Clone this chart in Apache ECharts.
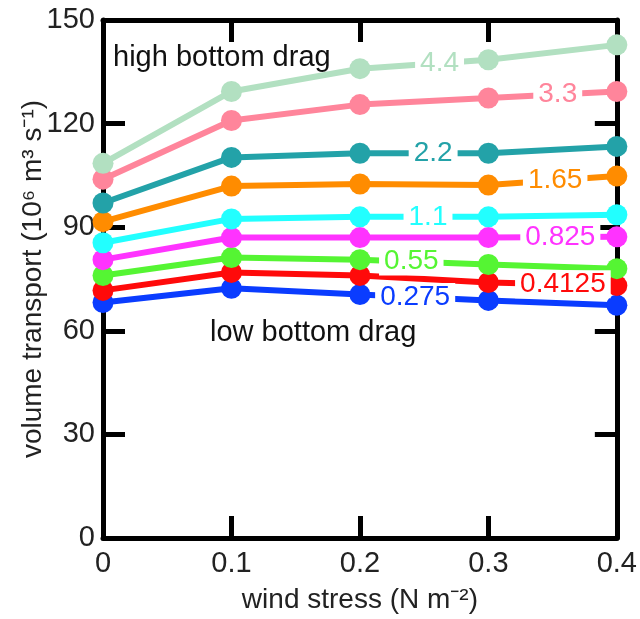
<!DOCTYPE html>
<html>
<head>
<meta charset="utf-8">
<script src="https://cdn.jsdelivr.net/npm/echarts@6/dist/echarts.min.js"></script>
<style>
  html, body { margin: 0; padding: 0; background: #fff; }
  #chart { width: 640px; height: 619px; }
</style>
</head>
<body>
<div id="chart"></div>
<script>
// wind stress (N m-2)
const windStress = [0, 0.1, 0.2, 0.3, 0.4];

// bottom drag labels, colours and transport values (Sv)
const dragNames = ['4.4', '3.3', '2.2', '1.65', '1.1', '0.825', '0.55', '0.4125', '0.275'];
const dragColors = ['#b2e0c1', '#ff859b', '#23a2a8', '#ff8c00', '#22ffff', '#ff33ff', '#55f533', '#ff0a0a', '#0a3cff'];
const transport = [
  [108.5, 129.3, 135.9, 138.5, 142.8],
  [103.9, 120.9, 125.5, 127.4, 129.3],
  [97.0, 110.2, 111.4, 111.4, 113.4],
  [91.6, 101.9, 102.5, 102.2, 104.8],
  [85.5, 92.4, 93.0, 93.0, 93.6],
  [80.6, 87.0, 87.0, 87.0, 87.2],
  [76.0, 81.2, 80.6, 79.2, 78.0],
  [71.7, 76.9, 76.0, 74.0, 73.1],
  [68.2, 72.3, 70.5, 68.8, 67.4]
];
// where along x each inline label sits
const labelX = [0.262, 0.354, 0.257, 0.352, 0.253, 0.356, 0.24, 0.358, 0.243];

const FONT = '"Liberation Sans", Arial, sans-serif';

// y value on a series at a given x (used only to place the inline label)
function yAt(vals, x) {
  for (let i = 0; i < windStress.length - 1; i++) {
    const x0 = windStress[i], x1 = windStress[i + 1];
    if (x >= x0 && x <= x1) {
      const t = (x - x0) / (x1 - x0);
      return vals[i] + t * (vals[i + 1] - vals[i]);
    }
  }
  return vals[vals.length - 1];
}

const axisLine = { show: true, onZero: false, lineStyle: { color: '#000', width: 5 } };
const axisTick = { show: true, inside: true, length: 22, lineStyle: { color: '#000', width: 5 } };

const series = dragNames.map((name, i) => ({
  name: name,
  type: 'line',
  clip: false,
  data: windStress.map((x, j) => [x, transport[i][j]]),
  symbol: 'circle',
  symbolSize: 21,
  lineStyle: { color: dragColors[i], width: 6 },
  itemStyle: { color: dragColors[i] },
  emphasis: { disabled: true },
  z: 10 - i,
  markPoint: {
    symbol: 'rect',
    symbolSize: 0,
    silent: true,
    z: 30,
    data: [{ coord: [labelX[i], yAt(transport[i], labelX[i])] }],
    label: {
      show: true,
      position: 'inside',
      formatter: name,
      color: dragColors[i],
      fontFamily: FONT,
      fontSize: 28,
      backgroundColor: '#fff',
      padding: [0, 5, 0, 5],
      lineHeight: 28
    }
  }
}));

const chart = echarts.init(document.getElementById('chart'));
chart.setOption({
  backgroundColor: '#fff',
  animation: false,
  grid: { left: 103, right: 20, top: 20, bottom: 76 },
  xAxis: [
    {
      type: 'value', min: 0, max: 0.4, interval: 0.1,
      name: 'wind stress (N m⁻²)', nameLocation: 'middle', nameGap: 48,
      nameMoveOverlap: false,
      nameTextStyle: { fontFamily: FONT, fontSize: 28, color: '#222' },
      axisLine: axisLine, axisTick: axisTick, splitLine: { show: false },
      axisLabel: { fontFamily: FONT, fontSize: 29, color: '#222', margin: 11 }
    },
    {
      type: 'value', min: 0, max: 0.4, interval: 0.1, position: 'top',
      axisLine: axisLine, axisTick: axisTick, splitLine: { show: false },
      axisLabel: { show: false }
    }
  ],
  yAxis: [
    {
      type: 'value', min: 0, max: 150, interval: 30,
      name: 'volume transport (10⁶ m³ s⁻¹)', nameLocation: 'middle', nameGap: 56,
      nameMoveOverlap: false,
      nameTextStyle: { fontFamily: FONT, fontSize: 28, color: '#222' },
      axisLine: axisLine, axisTick: axisTick, splitLine: { show: false },
      axisLabel: { fontFamily: FONT, fontSize: 29, color: '#222', margin: 8 }
    },
    {
      type: 'value', min: 0, max: 150, interval: 30, position: 'right',
      axisLine: axisLine, axisTick: axisTick, splitLine: { show: false },
      axisLabel: { show: false }
    }
  ],
  graphic: [
    {
      type: 'text', left: 113, top: 43, z: 100,
      style: { text: 'high bottom drag', fontFamily: FONT, fontSize: 29, fill: '#111' }
    },
    {
      type: 'text', left: 210, top: 318, z: 100,
      style: { text: 'low bottom drag', fontFamily: FONT, fontSize: 29, fill: '#111' }
    }
  ],
  series: series
});
</script>
</body>
</html>
